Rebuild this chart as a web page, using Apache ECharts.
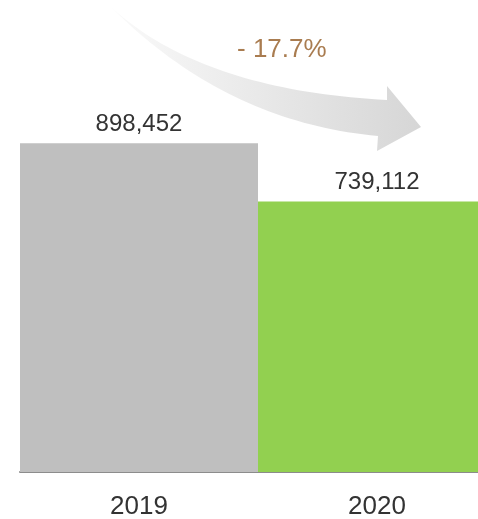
<!DOCTYPE html>
<html><head><meta charset="utf-8">
<script src="https://cdn.jsdelivr.net/npm/echarts@6/dist/echarts.min.js"></script>
<style>html,body{margin:0;padding:0;background:#fff}#c{width:478px;height:519px}</style>
</head><body><div id="c"></div>
<script>
const categories = ['2019', '2020'];
const values = [898452, 739112];
const barColors = ['#BFBFBF', '#92D050'];
const changeLabel = '- 17.7%';

function quad(p0, c, p1, n) {
  const pts = [];
  for (let i = 0; i <= n; i++) {
    const t = i / n, u = 1 - t;
    pts.push([u*u*p0[0] + 2*u*t*c[0] + t*t*p1[0], u*u*p0[1] + 2*u*t*c[1] + t*t*p1[1]]);
  }
  return pts;
}
const upper = quad([110, 6], [200, 90], [387, 100], 40);
const lower = quad([378, 136], [225, 122], [110, 6], 40);
const arrowPts = upper.concat([[387, 86], [421, 127], [377, 151]], lower);

const chart = echarts.init(document.getElementById('c'), null, {renderer: 'canvas'});
chart.setOption({
  animation: false,
  grid: {left: 20, right: -18, top: 106, bottom: 47, containLabel: false, outerBoundsMode: 'none'},
  xAxis: {
    type: 'category', data: categories,
    axisTick: {show: false},
    axisLine: {lineStyle: {color: '#8C8C8C', width: 2}},
    axisLabel: {fontFamily: 'Liberation Sans, Arial', fontSize: 26, color: '#333', margin: 22}
  },
  yAxis: {type: 'value', min: 0, max: 1000000, show: false, splitLine: {show: false}},
  series: [{
    type: 'bar', barWidth: '100%', barCategoryGap: 0,
    data: values.map((v, i) => ({value: v, itemStyle: {color: barColors[i]}})),
    label: {
      show: true, position: 'top', distance: 7,
      fontFamily: 'Liberation Sans, Arial', fontSize: 24, color: '#333',
      formatter: p => p.value.toLocaleString('en-US')
    }
  }],
  graphic: [
    {
      type: 'polygon', z: 0,
      shape: {points: arrowPts},
      style: {fill: {type: 'linear', x: 0, y: 0, x2: 1, y2: 0, colorStops: [
        {offset: 0, color: '#FAFAFA'}, {offset: 1, color: '#D6D6D6'}]}}
    },
    {
      type: 'text', left: 237, top: 37, z: 10,
      style: {text: changeLabel, fontFamily: 'Liberation Sans, Arial', fontSize: 26, fill: '#A97C50'}
    }
  ]
});
</script></body></html>
